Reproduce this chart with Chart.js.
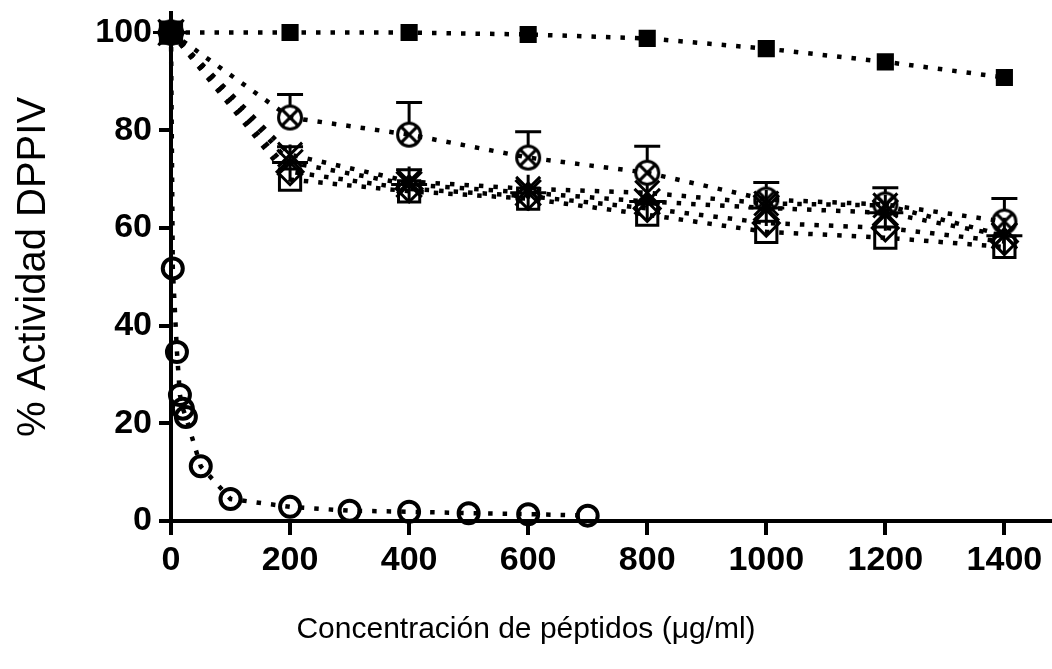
<!DOCTYPE html>
<html><head><meta charset="utf-8">
<script src="https://cdn.jsdelivr.net/npm/chart.js@4.4.0/dist/chart.umd.min.js"></script>
<style>html,body{margin:0;padding:0;background:#fff;overflow:hidden}#wrap{width:1052px;height:669px;position:relative}</style>
</head><body><div id="wrap"><canvas id="c" width="1052" height="669"></canvas></div>
<script>
// ---- data ----
const concentrations = [0, 200, 400, 600, 800, 1000, 1200, 1400];
const controlValues = [100, 100, 100, 99.6, 98.8, 96.7, 94.0, 90.8];
const otimesValues  = [100, 82.6, 79.1, 74.4, 71.3, 65.8, 64.8, 61.3];
const otimesErrUp   = [0, 4.7, 6.6, 5.3, 5.4, 3.5, 3.4, 4.7];
const crossValues   = [100, 75.0, 69.5, 68.0, 67.2, 65.0, 64.6, 58.5];
const starValues    = [100, 73.4, 68.9, 67.2, 65.4, 64.1, 63.1, 58.4];
const starErrUp     = [0, 3.2, 3.0, 0, 0, 0, 0, 0];
const diamondValues = [100, 71.5, 68.0, 66.5, 64.0, 61.0, 60.0, 57.2];
const squareValues  = [100, 69.9, 67.5, 66.0, 62.7, 59.2, 58.0, 56.1];
const refConcentrations = [0, 3, 10, 15, 20, 25, 50, 100, 200, 300, 400, 500, 600, 700];
const refValues = [100, 51.7, 34.6, 25.8, 23.0, 21.3, 11.2, 4.5, 2.9, 2.1, 1.9, 1.6, 1.4, 1.1];
const xTicks = [0, 200, 400, 600, 800, 1000, 1200, 1400];
const yTicks = [0, 20, 40, 60, 80, 100];
const xTitle = 'Concentración de péptidos (μg/ml)';
const yTitle = '% Actividad DPPIV';

const FONT = '"Liberation Sans", Arial, Helvetica, sans-serif';
Chart.defaults.font.family = FONT;
Chart.defaults.color = '#000';

function pts(xs, ys) { return xs.map((x, i) => ({x: x, y: ys[i]})); }

function makeOtimes(r, lw) {
  const s = Math.ceil(2 * r + lw + 2);
  const c = document.createElement('canvas');
  c.width = s; c.height = s;
  const g = c.getContext('2d');
  g.strokeStyle = '#000'; g.lineWidth = lw;
  g.beginPath(); g.arc(s / 2, s / 2, r, 0, Math.PI * 2); g.stroke();
  const d = r * Math.SQRT1_2;
  g.beginPath();
  g.moveTo(s / 2 - d, s / 2 - d); g.lineTo(s / 2 + d, s / 2 + d);
  g.moveTo(s / 2 + d, s / 2 - d); g.lineTo(s / 2 - d, s / 2 + d);
  g.stroke();
  return c;
}
const otimesImg = makeOtimes(11.5, 3);

const base = {
  showLine: true, borderColor: '#000', borderWidth: 4.5, borderDash: [4.5, 10],
  tension: 0, clip: false, fill: false,
  pointBorderColor: '#000', pointBackgroundColor: 'rgba(0,0,0,0)', pointBorderWidth: 3
};

const datasets = [
  Object.assign({}, base, {label: 'control', data: pts(concentrations, controlValues), pointStyle: 'rect', pointRadius: 10, pointBackgroundColor: '#000'}),
  Object.assign({}, base, {label: 'otimes', data: pts(concentrations, otimesValues), pointStyle: otimesImg, pointRadius: 12, errUp: otimesErrUp, errStart: 12}),
  Object.assign({}, base, {label: 'cross', data: pts(concentrations, crossValues), pointStyle: 'crossRot', pointRadius: 17}),
  Object.assign({}, base, {label: 'star', data: pts(concentrations, starValues), pointStyle: 'star', pointRadius: 18, errUp: starErrUp, errStart: 14}),
  Object.assign({}, base, {label: 'diamond', data: pts(concentrations, diamondValues), pointStyle: 'rectRot', pointRadius: 13}),
  Object.assign({}, base, {label: 'square', data: pts(concentrations, squareValues), pointStyle: 'rect', pointRadius: 15}),
  Object.assign({}, base, {label: 'reference', data: pts(refConcentrations, refValues), pointStyle: 'circle', pointRadius: 10, pointBorderWidth: 4})
];

const errorBars = {
  id: 'errorBars',
  afterDatasetsDraw(chart) {
    const ctx = chart.ctx, xs = chart.scales.x, ys = chart.scales.y;
    chart.data.datasets.forEach((ds) => {
      if (!ds.errUp) return;
      ds.data.forEach((p, j) => {
        const e = ds.errUp[j];
        if (!e) return;
        const px = xs.getPixelForValue(p.x);
        const py = ys.getPixelForValue(p.y);
        const pt = ys.getPixelForValue(p.y + e);
        const start = py - ds.errStart;
        if (pt >= start) return;
        ctx.save();
        ctx.strokeStyle = '#000'; ctx.lineWidth = 3; ctx.lineCap = 'butt';
        ctx.beginPath();
        ctx.moveTo(px, start); ctx.lineTo(px, pt);
        ctx.moveTo(px - 13, pt); ctx.lineTo(px + 13, pt);
        ctx.stroke();
        ctx.restore();
      });
    });
  }
};

function noPad(s) { s.paddingLeft = 0; s.paddingRight = 0; s.paddingTop = 0; s.paddingBottom = 0; }

new Chart(document.getElementById('c'), {
  type: 'scatter',
  data: {datasets: datasets},
  plugins: [errorBars],
  options: {
    responsive: false, animation: false, events: [],
    layout: {autoPadding: false, padding: {left: 0, right: 0, top: 13, bottom: 0}},
    plugins: {
      legend: {display: false}, tooltip: {enabled: false},
      title: {display: true, position: 'bottom', text: xTitle, color: '#000',
        font: {size: 30, weight: 'normal', family: FONT}, padding: {top: 11, bottom: 21}}
    },
    scales: {
      x: {
        type: 'linear', min: 0, max: 1480,
        afterBuildTicks: (s) => { s.ticks = xTicks.map(v => ({value: v})); },
        afterFit: (s) => { s.height = 80; noPad(s); },
        ticks: {font: {size: 34, weight: 'bold', family: FONT}, color: '#000', padding: 5, maxRotation: 0, autoSkip: false,
          callback: (v) => String(v)},
        grid: {drawOnChartArea: false, drawTicks: true, tickLength: 14, lineWidth: 4, color: '#000'},
        border: {display: true, width: 4, color: '#000'}
      },
      y: {
        type: 'linear', min: 0, max: 104,
        afterBuildTicks: (s) => { s.ticks = yTicks.map(v => ({value: v})); },
        afterFit: (s) => { s.width = 171; noPad(s); },
        ticks: {font: {size: 34, weight: 'bold', family: FONT}, color: '#000', padding: 7, callback: (v) => String(v)},
        grid: {drawOnChartArea: false, drawTicks: true, tickLength: 12, lineWidth: 4, color: '#000'},
        border: {display: true, width: 4, color: '#000'},
        title: {display: true, text: yTitle, color: '#000', font: {size: 40, weight: 'normal', family: FONT}, padding: {top: 10, bottom: 0}}
      }
    }
  }
});
</script>
</body></html>
